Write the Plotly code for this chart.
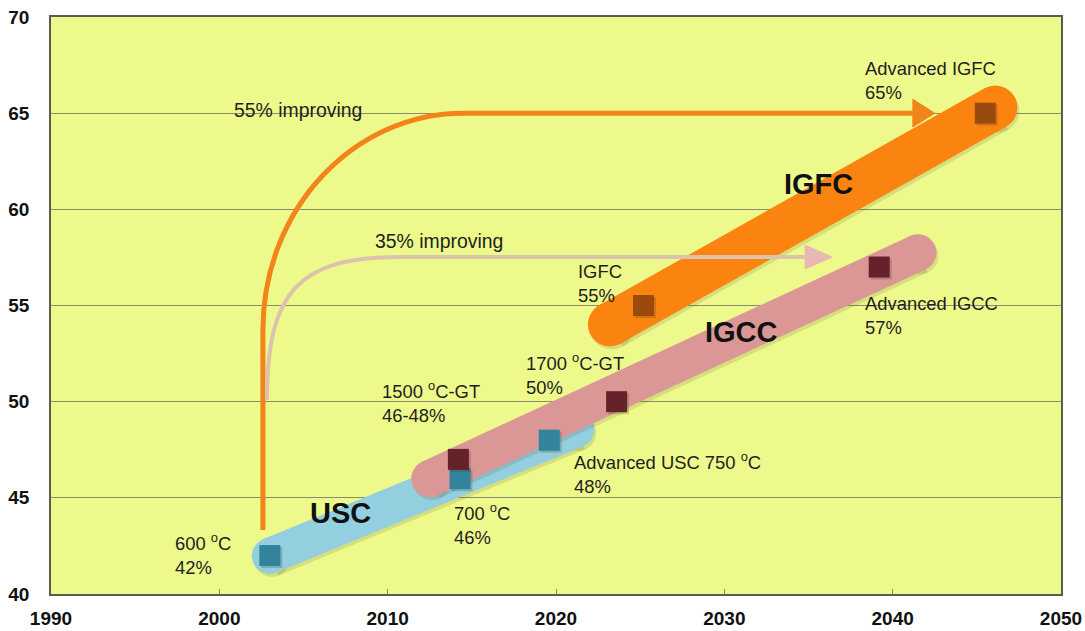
import numpy as np
import plotly.graph_objects as go

# ---- data ---------------------------------------------------------------
usc_years = [2003.0, 2014.3, 2019.6]
usc_eff = [42, 46, 48]
usc_text = ["600 <sup>o</sup>C<br>42%", "700 <sup>o</sup>C<br>46%",
            "Advanced USC 750 <sup>o</sup>C<br>48%"]

igcc_years = [2014.2, 2023.6, 2039.2]
igcc_eff = [47, 50, 57]
igcc_text = ["1500 <sup>o</sup>C-GT<br>46-48%", "1700 <sup>o</sup>C-GT<br>50%",
             "Advanced IGCC<br>57%"]

igfc_years = [2025.2, 2045.5]
igfc_eff = [55, 65]
igfc_text = ["IGFC<br>55%", "Advanced IGFC<br>65%"]

x_ticks = [1990, 2000, 2010, 2020, 2030, 2040, 2050]
y_ticks = [40, 45, 50, 55, 60, 65, 70]

# ---- styling --------------------------------------------------------------
FONT = "Liberation Sans, Arial, sans-serif"
BG = "#eef98c"
X_RANGE = (1990, 2050)
Y_RANGE = (40, 70)
W, H = 1085, 631
M = dict(l=51, r=24, t=17, b=37)
PX_PER_YEAR = (W - M["l"] - M["r"]) / (X_RANGE[1] - X_RANGE[0])
PX_PER_UNIT = (H - M["t"] - M["b"]) / (Y_RANGE[1] - Y_RANGE[0])

# technology bands: year span, thickness (px), colour
bands = [
    dict(name="USC", years=usc_years, eff=usc_eff, span=(2003.0, 2021.2), width=36, color="#93cfdf"),
    dict(name="IGCC", years=igcc_years, eff=igcc_eff, span=(2012.5, 2041.5), width=37, color="#db9796"),
    dict(name="IGFC", years=igfc_years, eff=igfc_eff, span=(2023.2, 2046.1), width=44, color="#fb8410"),
]

# point label offsets (px) relative to each marker, left-anchored
usc_offsets = [(-97, 2), (-8, -45), (23, -33)]
igcc_offsets = [(-78, 57), (-93, 28), (-16, -48)]
igfc_offsets = [(-68, 22), (-122, 33)]

fig = go.Figure()

# bands drawn as thick lines with round ends (end markers of the same size)
for b in bands:
    slope, icpt = np.polyfit(b["years"], b["eff"], 1)
    xs = np.array(b["span"])
    ys = slope * xs + icpt
    # soft drop shadow
    fig.add_trace(go.Scatter(
        x=xs + 2 / PX_PER_YEAR, y=ys - 3 / PX_PER_UNIT, mode="lines+markers",
        line=dict(color="rgba(90,90,40,0.16)", width=b["width"]),
        marker=dict(size=b["width"], color="rgba(90,90,40,0.16)", line=dict(width=0)),
        hoverinfo="skip", showlegend=False))
    fig.add_trace(go.Scatter(
        x=xs, y=ys, mode="lines+markers",
        line=dict(color=b["color"], width=b["width"]),
        marker=dict(size=b["width"], color=b["color"], line=dict(width=0)),
        hoverinfo="skip", showlegend=False))

# markers
series = [
    (usc_years, usc_eff, "#31849b"),
    (igcc_years, igcc_eff, "#66222a"),
    (igfc_years, igfc_eff, "#9a4a0c"),
]
for xs, ys, col in series:
    fig.add_trace(go.Scatter(
        x=[x + 2 / PX_PER_YEAR for x in xs], y=[y - 2 / PX_PER_UNIT for y in ys],
        mode="markers", marker=dict(symbol="square", size=21, color="rgba(60,60,20,0.22)"),
        hoverinfo="skip", showlegend=False))
    fig.add_trace(go.Scatter(
        x=xs, y=ys, mode="markers",
        marker=dict(symbol="square", size=21, color=col, line=dict(width=0)),
        showlegend=False))

# curved "improving" arrows: vertical rise, bend, horizontal run, arrowhead
arrows = [
    dict(x0=2002.59, y0=43.33, ybend=53.73, c1y=59.97, c2x=2007.94, xbend=2014.48,
         level=65.0, xbase=2041.2, xtip=2042.5, half=0.72, color="#f2841a",
         head="#f2841a", width=5),
    dict(x0=2002.83, y0=50.09, ybend=50.09, c1y=55.81, c2x=2004.79, xbend=2010.73,
         level=57.52, xbase=2034.8, xtip=2036.4, half=0.62, color="#dcc3ad",
         head="#e8b9b4", width=4),
]
shapes = []
for a in arrows:
    path = (f"M {a['x0']},{a['y0']} L {a['x0']},{a['ybend']} "
            f"C {a['x0']},{a['c1y']} {a['c2x']},{a['level']} {a['xbend']},{a['level']} "
            f"L {a['xbase']},{a['level']}")
    shapes.append(dict(type="path", xref="x", yref="y", path=path, layer="above",
                       line=dict(color=a["color"], width=a["width"])))
    head = (f"M {a['xbase']},{a['level'] + a['half']} L {a['xtip']},{a['level']} "
            f"L {a['xbase']},{a['level'] - a['half']} Z")
    shapes.append(dict(type="path", xref="x", yref="y", path=head, layer="above",
                       fillcolor=a["head"], line=dict(color=a["head"], width=1)))

annotations = []
for xs, ys, texts, offs in [(usc_years, usc_eff, usc_text, usc_offsets),
                            (igcc_years, igcc_eff, igcc_text, igcc_offsets),
                            (igfc_years, igfc_eff, igfc_text, igfc_offsets)]:
    for x, y, t, (dx, dy) in zip(xs, ys, texts, offs):
        annotations.append(dict(x=x, y=y, text=t, showarrow=False, xanchor="left",
                                yanchor="middle", align="left", xshift=dx, yshift=dy,
                                font=dict(family=FONT, size=18.4, color="#1e1e1e")))

for txt, x, y in [("55% improving", 2000.75, 65.17), ("35% improving", 2009.1, 58.36)]:
    annotations.append(dict(x=x, y=y, text=txt, showarrow=False, xanchor="left",
                            yanchor="middle", font=dict(family=FONT, size=19.4, color="#1e1e1e")))

for txt, x, y in [("USC", 2007.2, 44.2), ("IGCC", 2031.0, 53.6), ("IGFC", 2035.6, 61.3)]:
    annotations.append(dict(x=x, y=y, text=f"<b>{txt}</b>", showarrow=False,
                            font=dict(family=FONT, size=29, color="#111111")))

fig.update_layout(
    width=W, height=H, margin=M,
    paper_bgcolor="white", plot_bgcolor=BG,
    shapes=shapes, annotations=annotations, showlegend=False,
    xaxis=dict(range=list(X_RANGE), tickvals=x_ticks, ticktext=[str(v) for v in x_ticks],
               automargin=False,
               showgrid=False, zeroline=False, showline=True, mirror=True,
               linecolor="#5a5a50", linewidth=1.5, ticks="inside", ticklen=5,
               tickcolor="#8a8a70", ticklabelstandoff=6,
               tickfont=dict(family=FONT, size=19, color="#111111", weight="bold")),
    yaxis=dict(range=list(Y_RANGE), tickvals=y_ticks, ticktext=[str(v) for v in y_ticks],
               automargin=False,
               showgrid=True, gridcolor="#8c8c6c", gridwidth=1, zeroline=False,
               showline=True, mirror=True, linecolor="#5a5a50", linewidth=1.5,
               ticks="", ticklabelstandoff=16,
               tickfont=dict(family=FONT, size=19, color="#111111", weight="bold")),
)

fig.write_html("out.html")
